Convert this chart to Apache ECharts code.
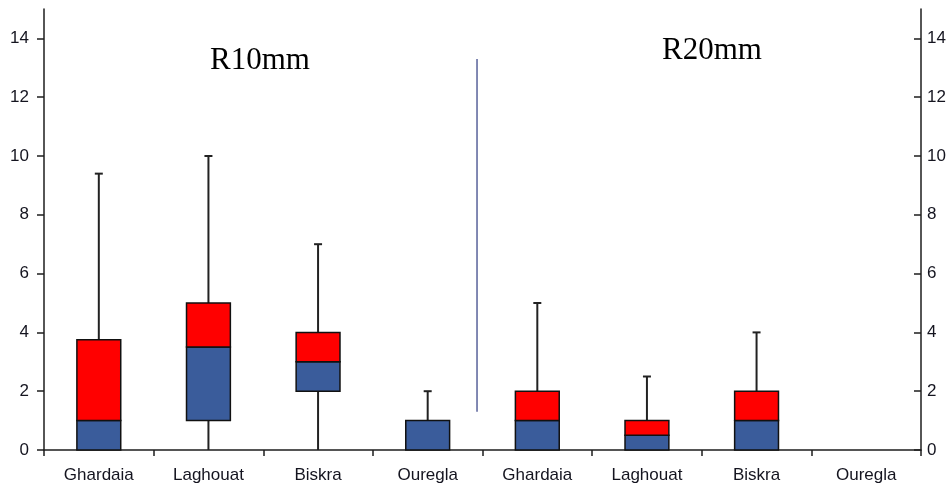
<!DOCTYPE html>
<html>
<head>
<meta charset="utf-8">
<script src="https://cdn.jsdelivr.net/npm/echarts@6/dist/echarts.min.js"></script>
<style>
  html, body { margin: 0; padding: 0; background: #fff; }
  #chart { width: 948px; height: 492px; }
</style>
</head>
<body>
<div id="chart"></div>
<script>
// Stations, shown once for the R10mm index and once for R20mm
const categories = ['Ghardaia', 'Laghouat', 'Biskra', 'Ouregla', 'Ghardaia', 'Laghouat', 'Biskra', 'Ouregla'];

// Five-number summaries per station (days)
const minValues    = [0,    0,   0, 0, 0, 0,   0, 0];
const q1Values     = [0,    1,   2, 0, 0, 0,   0, 0];
const medianValues = [1,    3.5, 3, 1, 1, 0.5, 1, 0];
const q3Values     = [3.75, 5,   4, 1, 2, 1,   2, 0];
const maxValues    = [9.4,  10,  7, 2, 5, 2.5, 4, 0];

// Value axis ticks
const yTicks = [0, 2, 4, 6, 8, 10, 12, 14];

// Panel captions
const panelTitles = ['R10mm', 'R20mm'];

// Divider between the two panels, in axis units (x on a 0..8 scale, y in days)
const dividerX = 3.95;
const dividerY = [1.3, 13.3];

const BLUE = '#3a5c9b';
const RED = '#ff0000';
const INK = '#1e1e1e';
const LABEL = '#14141f';
const SANS = '"Liberation Sans", Arial, sans-serif';

const rows = categories.map((c, i) => [i, minValues[i], q1Values[i], medianValues[i], q3Values[i], maxValues[i]]);

const chart = echarts.init(document.getElementById('chart'), null, { renderer: 'canvas' });

const yAxisCommon = {
  type: 'value',
  min: 0,
  max: 15,
  interval: 2,
  splitLine: { show: false },
  axisLine: { show: true, lineStyle: { color: INK, width: 1.5 } },
  axisLabel: {
    customValues: yTicks,
    color: LABEL,
    fontFamily: SANS,
    fontSize: 17
  }
};

chart.setOption({
  animation: false,
  backgroundColor: '#fff',
  grid: { left: 44, right: 27, top: 9, bottom: 42, outerBoundsMode: 'none', containLabel: false },
  xAxis: [
    {
      type: 'category',
      data: categories,
      axisLine: { show: true, lineStyle: { color: INK, width: 1.5 } },
      axisTick: { show: true, length: 6, lineStyle: { color: INK, width: 1.5 } },
      axisLabel: {
        interval: 0,
        color: LABEL,
        fontFamily: SANS,
        fontSize: 17,
        margin: 17
      }
    },
    {
      type: 'value',
      min: 0,
      max: categories.length,
      show: false
    }
  ],
  yAxis: [
    Object.assign({}, yAxisCommon, {
      position: 'left',
      axisTick: { show: true, length: 7, customValues: yTicks, lineStyle: { color: INK, width: 1.5 } },
      axisLabel: Object.assign({}, yAxisCommon.axisLabel, { margin: 15 })
    }),
    Object.assign({}, yAxisCommon, {
      position: 'right',
      axisTick: { show: true, inside: true, length: 7, customValues: yTicks, lineStyle: { color: INK, width: 1.5 } },
      axisLabel: Object.assign({}, yAxisCommon.axisLabel, { margin: 6 })
    })
  ],
  graphic: [
    {
      type: 'text',
      left: 210,
      top: 45,
      style: { text: panelTitles[0], font: '31px "Liberation Serif", "Times New Roman", serif', fill: '#000' }
    },
    {
      type: 'text',
      left: 662,
      top: 35,
      style: { text: panelTitles[1], font: '31px "Liberation Serif", "Times New Roman", serif', fill: '#000' }
    }
  ],
  series: [
    {
      // whiskers: lower one from min to Q1, upper one from Q3 to max with a cap
      type: 'custom',
      xAxisIndex: 0,
      yAxisIndex: 0,
      data: rows,
      z: 2,
      renderItem: function (params, api) {
        const i = api.value(0);
        const lo = api.coord([i, api.value(1)]);
        const q1 = api.coord([i, api.value(2)]);
        const q3 = api.coord([i, api.value(4)]);
        const hi = api.coord([i, api.value(5)]);
        const x = lo[0];
        const capHalf = 4;
        const style = { stroke: '#222', lineWidth: 2 };
        const children = [];
        if (api.value(2) > api.value(1)) {
          children.push({ type: 'line', shape: { x1: x, y1: lo[1], x2: x, y2: q1[1] }, style: style });
        }
        if (api.value(5) > api.value(4)) {
          children.push({ type: 'line', shape: { x1: x, y1: q3[1], x2: x, y2: hi[1] }, style: style });
          children.push({ type: 'line', shape: { x1: x - capHalf, y1: hi[1], x2: x + capHalf, y2: hi[1] }, style: style });
        }
        return { type: 'group', children: children };
      }
    },
    {
      // boxes: blue from Q1 to median, red from median to Q3
      type: 'custom',
      xAxisIndex: 0,
      yAxisIndex: 0,
      data: rows,
      z: 3,
      renderItem: function (params, api) {
        const i = api.value(0);
        const w = api.size([1, 0])[0] * 0.4;
        const q1 = api.coord([i, api.value(2)]);
        const md = api.coord([i, api.value(3)]);
        const q3 = api.coord([i, api.value(4)]);
        const x0 = q1[0] - w / 2;
        const children = [];
        if (api.value(3) > api.value(2)) {
          children.push({
            type: 'rect',
            shape: { x: x0, y: md[1], width: w, height: q1[1] - md[1] },
            style: { fill: BLUE, stroke: '#111', lineWidth: 1.5 }
          });
        }
        if (api.value(4) > api.value(3)) {
          children.push({
            type: 'rect',
            shape: { x: x0, y: q3[1], width: w, height: md[1] - q3[1] },
            style: { fill: RED, stroke: '#111', lineWidth: 1.5 }
          });
        }
        return { type: 'group', children: children };
      }
    },
    {
      // thin divider between the R10mm and R20mm panels
      type: 'line',
      xAxisIndex: 1,
      yAxisIndex: 0,
      data: [[dividerX, dividerY[0]], [dividerX, dividerY[1]]],
      symbol: 'none',
      lineStyle: { color: '#2e3a80', width: 1.2 },
      z: 1
    }
  ]
});
</script>
</body>
</html>
